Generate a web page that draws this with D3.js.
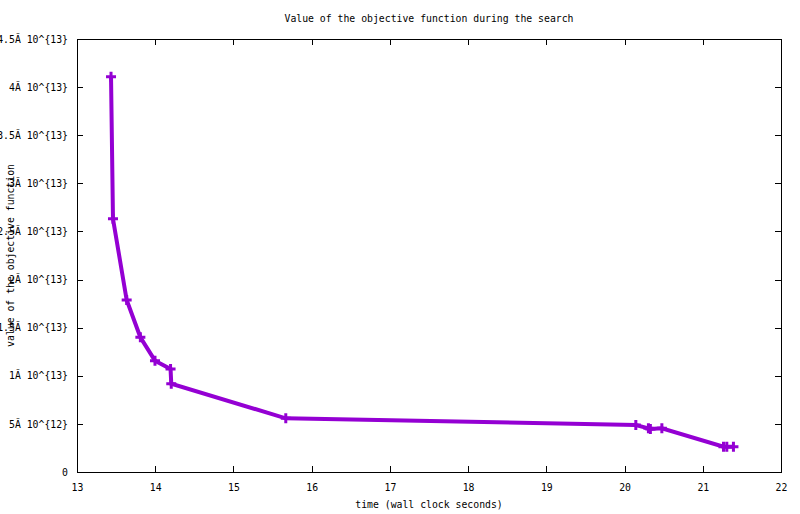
<!DOCTYPE html>
<html><head><meta charset="utf-8">
<script src="https://cdn.jsdelivr.net/npm/d3@7"></script>
<style>
html,body{margin:0;padding:0;background:#fff;}
svg{display:block;}
text{font-family:"DejaVu Sans Mono",monospace;font-size:9.8px;fill:#000;}
</style></head>
<body>
<svg id="c" width="800" height="514"></svg>
<script>
const times = [13.435, 13.46, 13.635, 13.81, 13.997, 14.196, 14.205, 15.669, 20.144, 20.305, 20.33, 20.477, 21.265, 21.307, 21.392];
const values = [4.108e13, 2.632e13, 1.787e13, 1.40e13, 1.157e13, 1.070e13, 0.918e13, 0.558e13, 0.488e13, 0.454e13, 0.447e13, 0.454e13, 0.263e13, 0.263e13, 0.263e13];
const xTicks = [13, 14, 15, 16, 17, 18, 19, 20, 21, 22];
const yTicks = [0, 5e12, 1e13, 1.5e13, 2e13, 2.5e13, 3e13, 3.5e13, 4e13, 4.5e13];
const yTickLabels = ["0", "5Ă 10^{12}", "1Ă 10^{13}", "1.5Ă 10^{13}", "2Ă 10^{13}", "2.5Ă 10^{13}", "3Ă 10^{13}", "3.5Ă 10^{13}", "4Ă 10^{13}", "4.5Ă 10^{13}"];
const title = "Value of the objective function during the search";
const xLabel = "time (wall clock seconds)";
const yLabel = "value of the objective function";

const L = 77, R = 781, T = 39, B = 472;
const svg = d3.select("#c");
const x = d3.scaleLinear().domain([13, 22]).range([L, R]);
const y = d3.scaleLinear().domain([0, 4.5e13]).range([B, T]);
const color = "#9400d3";

const tl = 6;
const gx = svg.append("g").attr("transform", `translate(0,${B})`)
  .call(d3.axisBottom(x).tickValues(xTicks).tickSizeInner(-tl).tickSizeOuter(0).tickPadding(12).tickFormat(d3.format("d")));
const gxt = svg.append("g").attr("transform", `translate(0,${T})`)
  .call(d3.axisTop(x).tickValues(xTicks).tickSizeInner(-tl).tickSizeOuter(0).tickFormat(""));
const gy = svg.append("g").attr("transform", `translate(${L},0)`)
  .call(d3.axisLeft(y).tickValues(yTicks).tickSizeInner(-tl).tickSizeOuter(0).tickPadding(9).tickFormat((d,i)=>yTickLabels[i]));
const gyr = svg.append("g").attr("transform", `translate(${R},0)`)
  .call(d3.axisRight(y).tickValues(yTicks).tickSizeInner(-tl).tickSizeOuter(0).tickFormat(""));
[gx,gxt,gy,gyr].forEach(g=>{
  g.select(".domain").remove();
  g.selectAll("text").attr("font-family",null).attr("font-size",null);
  g.selectAll("line").attr("stroke","#000").attr("shape-rendering","crispEdges");
});
svg.append("rect").attr("x",L).attr("y",T).attr("width",R-L).attr("height",B-T)
  .attr("fill","none").attr("stroke","#000").attr("shape-rendering","crispEdges");

svg.append("text").attr("x",(L+R)/2).attr("y",22).attr("text-anchor","middle").text(title);
svg.append("text").attr("x",(L+R)/2).attr("y",508).attr("text-anchor","middle").text(xLabel);
svg.append("text").attr("transform",`translate(14,${(T+B)/2}) rotate(-90)`).attr("text-anchor","middle").text(yLabel);

const pts = times.map((t,i)=>[t, values[i]]);
svg.append("path").datum(pts)
  .attr("d", d3.line().x(d=>x(d[0])).y(d=>y(d[1])))
  .attr("fill","none").attr("stroke",color).attr("stroke-width",4).attr("stroke-linejoin","miter");
const m = 5;
svg.append("g").selectAll("path.pt").data(pts).join("path")
  .attr("d", d=>{const cx=x(d[0]), cy=y(d[1]); return `M${cx-m},${cy}H${cx+m}M${cx},${cy-m}V${cy+m}`;})
  .attr("stroke",color).attr("stroke-width",3).attr("fill","none");
</script>
</body></html>
